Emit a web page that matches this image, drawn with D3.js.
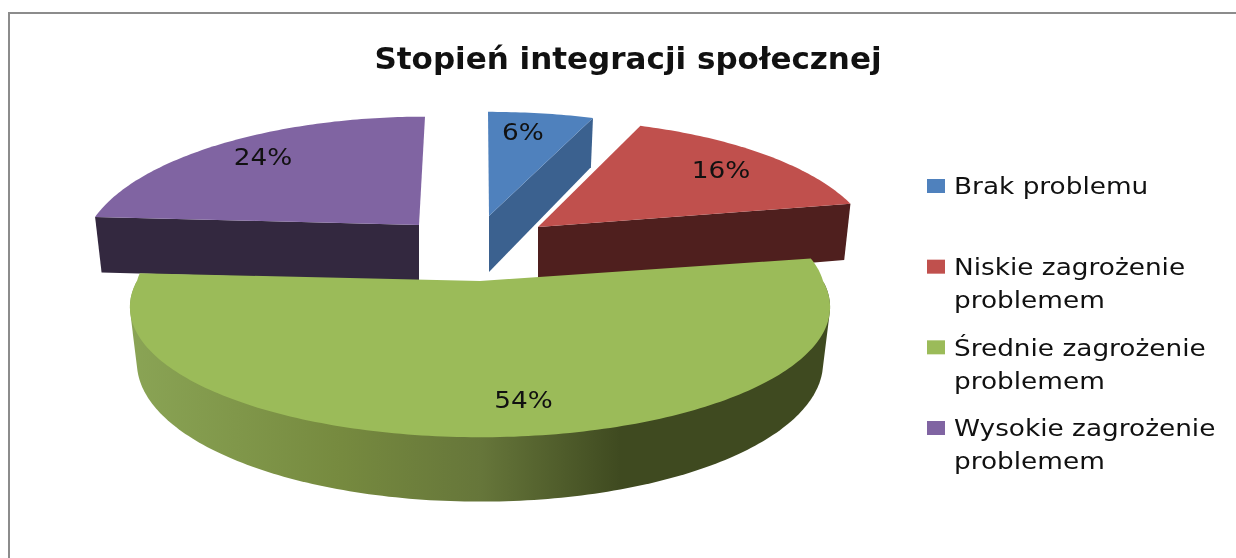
<!DOCTYPE html>
<html><head><meta charset="utf-8">
<script src="https://cdn.jsdelivr.net/npm/d3@7/dist/d3.min.js"></script>
<style>html,body{margin:0;padding:0;background:#fff}svg{display:block;filter:blur(.45px)}text{font-family:"DejaVu Sans";fill:#111}</style>
</head><body><svg id="c" width="1236" height="558"></svg>
<script>
const titleText = "Stopień integracji społecznej";
const categories = ["Brak problemu","Niskie zagrożenie problemem","Średnie zagrożenie problemem","Wysokie zagrożenie problemem"];
const legendLines = [["Brak problemu"],["Niskie zagrożenie","problemem"],["Średnie zagrożenie","problemem"],["Wysokie zagrożenie","problemem"]];
const values = [6,16,54,24];
const faceColors = ["#4f81bd","#c0504d","#9bbb59","#8064a2"];
const wallColors = ["#3b618f","#4f1f1e","#3f4a20","#33283f"];

// layout of each exploded slice: screen centre, radii, shear, wall depth; label placement
const slices = [
 {cx:489,cy:216,R:338,kR:125,shear:-1,pb:.2,depth:56,lr:.80,ldx:-9,ldy:1},
 {cx:538,cy:227,R:330,kR:129,shear:0,pb:.2,depth:58,lr:.75,ldx:9,ldy:-1},
 {cx:480,cy:281,R:343,kR:125,shear:0,pb:.1,depth:54,lr:.80,ldx:23,ldy:0},
 {cx:419,cy:225,R:329,kR:130,shear:6,pb:.2,depth:56,lr:.75,ldx:-7,ldy:-4}
];
const taper = .98, textStretch = 1.145;
const W=1236,H=558;
const svg = d3.select("#c");

const pieData = d3.pie().sort(null).value(d=>d)(values);
const fy = v => 1/(1+.2*v);
function topPt(s,a,r=1){const u=Math.sin(a)*r,v=Math.cos(a)*r;
  const fx = v>0 ? 1/(1+s.pb*v) : 1/(1+.2*v);
  return [s.cx+u*s.R*fx+s.shear*Math.max(v,0), s.cy-v*s.kR*fy(v)];}
function bottomPt(s,a,r=1){const p=topPt(s,a,r),v=Math.cos(a)*r;
  return [s.cx+(p[0]-s.cx)*taper, s.cy+(p[1]-s.cy)*taper+s.depth*fy(v)];}
const pathLine = d3.line();
const arcAngles=(a0,a1)=>{const n=Math.max(8,Math.ceil((a1-a0)*60));return d3.range(n+1).map(i=>a0+(a1-a0)*i/n);};
const stretched = (sel,x,y)=>sel.attr("transform",`translate(${x},${y}) scale(${textStretch},1)`);

const grad = svg.append("defs").append("linearGradient").attr("id","gw")
  .attr("gradientUnits","userSpaceOnUse").attr("x1",131).attr("x2",830).attr("y1",0).attr("y2",0);
[[0,"#8aa455"],[.3,"#768a3f"],[.5,"#66763a"],[.7,"#3f4a20"],[1,"#3f4a20"]].forEach(d=>grad.append("stop").attr("offset",d[0]).attr("stop-color",d[1]));

svg.append("rect").attr("x",9).attr("y",13).attr("width",W+20).attr("height",H+20)
  .attr("fill","#fff").attr("stroke","#8c8c8c").attr("stroke-width",2);

svg.append("text").attr("x",628).attr("y",69).attr("text-anchor","middle")
  .attr("font-size",31).attr("font-weight","bold").text(titleText);

// draw order: back slices first, the large front slice last
[3,0,1,2].forEach(i=>{
  const d=pieData[i],s=slices[i],g=svg.append("g");
  const a0=d.startAngle,a1=d.endAngle;
  // outer rim wall: silhouette of the front half of the top and bottom rims
  if(i===2){
    const ang=arcAngles(a0,a1).filter(a=>Math.cos(a)<=0);
    const hull=d3.polygonHull(ang.map(a=>topPt(s,a)).concat(ang.map(a=>bottomPt(s,a))));
    g.append("path").attr("d",pathLine(hull)+"Z").attr("fill","url(#gw)");
  }
  // cut face wall seen from the front
  const wa = i===3 ? a0 : a1;
  if(i!==2){
    const tipT=[s.cx,s.cy],tipB=[s.cx,s.cy+s.depth];
    g.append("path").attr("d",pathLine([tipT,topPt(s,wa),bottomPt(s,wa),tipB])+"Z").attr("fill",wallColors[i]);
  }
  // top face
  const pts=[[s.cx,s.cy]].concat(arcAngles(a0,a1).map(a=>topPt(s,a)));
  g.append("path").attr("d",pathLine(pts)+"Z").attr("fill",faceColors[i]);
});
// percentage labels
pieData.forEach((d,i)=>{
  const s=slices[i],p=topPt(s,(d.startAngle+d.endAngle)/2,s.lr);
  svg.append("text").call(stretched,p[0]+s.ldx,p[1]+s.ldy).attr("dy",".36em")
   .attr("text-anchor","middle").attr("font-size",23).text(d.value+"%");
});
// legend
const legendY=d3.scalePoint().domain(categories).range([186,428]);
categories.forEach((c,i)=>{
  const y=legendY(c);
  svg.append("rect").attr("x",927).attr("y",y-7).attr("width",18).attr("height",14).attr("fill",faceColors[i]);
  legendLines[i].forEach((t,j)=>{
    svg.append("text").call(stretched,954,y+j*33).attr("dy",".36em").attr("font-size",23).text(t);
  });
});
</script></body></html>
